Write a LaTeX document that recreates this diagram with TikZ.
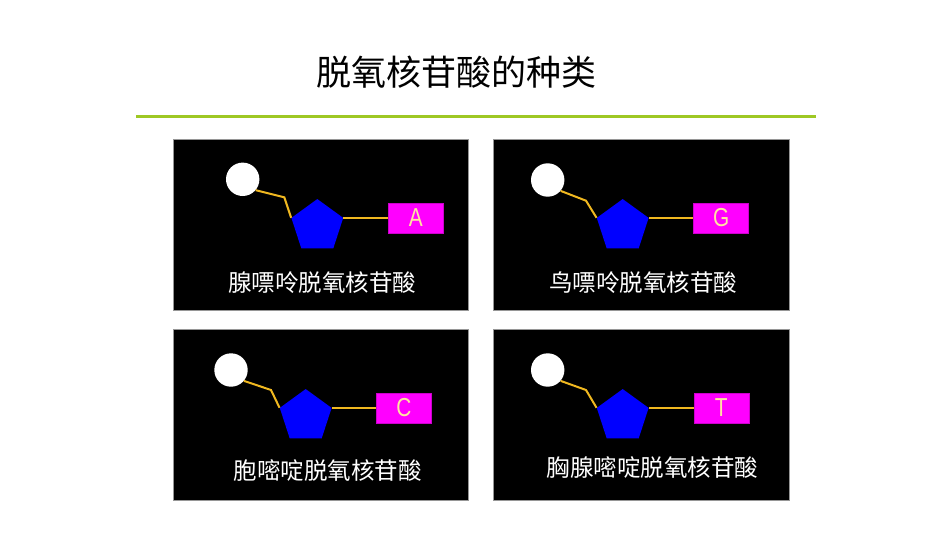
\documentclass[tikz,border=0pt]{standalone}
\usepackage{fontspec}
\usetikzlibrary{shapes.geometric}
\newfontfamily\cjk{Noto Sans CJK SC}
\newfontfamily\letterfont[FakeStretch=0.8]{Liberation Sans}
\definecolor{rulegreen}{RGB}{158,200,36}
\definecolor{bondcol}{RGB}{240,184,32}
\definecolor{basecol}{RGB}{255,0,255}
\definecolor{lettercol}{RGB}{255,228,160}
\definecolor{sugarcol}{RGB}{0,0,255}
\definecolor{panelborder}{RGB}{150,150,150}
\tikzset{
  panel/.style={draw=panelborder, line width=0.8pt, fill=black},
  phosphate/.style={circle, fill=white, minimum size=33.4pt, inner sep=0pt},
  sugar/.style={regular polygon, regular polygon sides=5, fill=sugarcol, minimum size=54.5pt, inner sep=0pt},
  base/.style={rectangle, fill=basecol, draw=basecol!80!black, line width=0.5pt, minimum width=55pt, minimum height=30pt, inner sep=0pt, font=\letterfont\fontsize{26}{28}\selectfont, text=lettercol},
  bond/.style={draw=bondcol, line width=2pt, line join=miter},
  label/.style={font=\cjk\fontsize{23.5}{27}\selectfont, text=white, inner sep=0pt},
  title/.style={font=\cjk\fontsize{35}{40}\selectfont, text=black, inner sep=0pt},
}
\begin{document}
\begin{tikzpicture}[x=1pt,y=-1pt]
\useasboundingbox[fill=white] (0,0) rectangle (950,535);
\node[title] (title) at (456,72) {脱氧核苷酸的种类};
\coordinate (ruleL) at (136,116.5);
\coordinate (ruleR) at (816,116.5);
\draw[rulegreen, line width=3pt] (ruleL) -- (ruleR);

% panel 1
\draw[panel] (173,139) rectangle (468,310);
\node[phosphate] (p1) at (242.7,179.3) {};
\node[sugar] (s1) at (317.3,226.3) {};
\node[base] (b1) at (415.8,217.9) {A};
\coordinate (k1) at (284.3,197.3);
\draw[bond] (p1.-40) -- (k1) -- (s1.corner 2);
\draw[bond] (s1.corner 5) -- (s1.corner 5 -| b1.west);
\node[label] (l1) at (322,283) {腺嘌呤脱氧核苷酸};

% panel 2
\draw[panel] (493,139) rectangle (789,310);
\node[phosphate] (p2) at (547.7,180) {};
\node[sugar] (s2) at (622.7,226.3) {};
\node[base] (b2) at (721.2,217.9) {G};
\coordinate (k2) at (586,200.7);
\draw[bond] (p2.-40) -- (k2) -- (s2.corner 2);
\draw[bond] (s2.corner 5) -- (s2.corner 5 -| b2.west);
\node[label] (l2) at (643,283) {鸟嘌呤脱氧核苷酸};

% panel 3
\draw[panel] (173,329) rectangle (468,500);
\node[phosphate] (p3) at (231,370) {};
\node[sugar] (s3) at (305.7,416.3) {};
\node[base] (b3) at (404,407.9) {C};
\coordinate (k3) at (271,390);
\draw[bond] (p3.-40) -- (k3) -- (s3.corner 2);
\draw[bond] (s3.corner 5) -- (s3.corner 5 -| b3.west);
\node[label] (l3) at (327.5,470.5) {胞嘧啶脱氧核苷酸};

% panel 4
\draw[panel] (493,329) rectangle (789,500);
\node[phosphate] (p4) at (547.7,370) {};
\node[sugar] (s4) at (622.7,416.3) {};
\node[base] (b4) at (721.3,407.9) {T};
\coordinate (k4) at (586,390);
\draw[bond] (p4.-40) -- (k4) -- (s4.corner 2);
\draw[bond] (s4.corner 5) -- (s4.corner 5 -| b4.west);
\node[label] (l4) at (652.5,468) {胸腺嘧啶脱氧核苷酸};
\end{tikzpicture}
\end{document}
